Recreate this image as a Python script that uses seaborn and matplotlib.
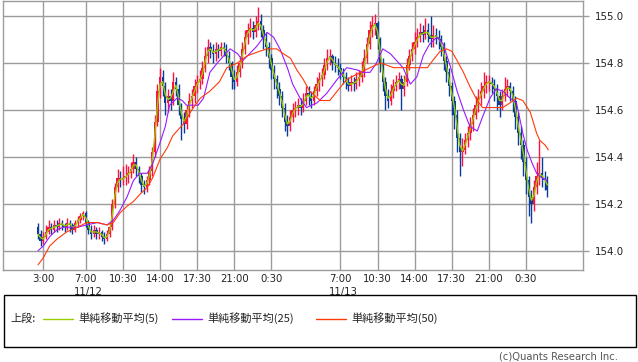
import numpy as np
import pandas as pd
import matplotlib
matplotlib.use("Agg")
import matplotlib.pyplot as plt
import seaborn as sns
from matplotlib.lines import Line2D
from matplotlib.patches import Rectangle

# ---------------- data (hours counted from 11/12 0:00, 15-min bars) ----------------
start_hour = 2.5
bar_hours = 0.25
first_open = 154.10

closes = [
    154.07, 154.04,
    154.06, 154.08, 154.10, 154.09,
    154.11, 154.10, 154.12, 154.11,
    154.10, 154.12, 154.11, 154.09,
    154.12, 154.13, 154.15, 154.16,
    154.12, 154.09, 154.07, 154.09,
    154.07, 154.08, 154.06, 154.05,
    154.07, 154.10, 154.20, 154.27,
    154.31, 154.30, 154.31, 154.32,
    154.33, 154.35, 154.38, 154.35,
    154.32, 154.28, 154.27, 154.30,
    154.34, 154.42, 154.55, 154.68,
    154.74, 154.70, 154.63, 154.66,
    154.64, 154.72, 154.69, 154.62,
    154.56, 154.54, 154.60, 154.64,
    154.66, 154.70, 154.72, 154.73,
    154.78, 154.83, 154.87, 154.85,
    154.84, 154.86, 154.85, 154.87,
    154.86, 154.83, 154.80, 154.74,
    154.72, 154.76, 154.80, 154.86,
    154.91, 154.94, 154.95, 154.93,
    154.96, 154.98, 154.94, 154.90,
    154.87, 154.82, 154.77, 154.73,
    154.69, 154.66, 154.61, 154.55,
    154.53, 154.57, 154.60, 154.61,
    154.62, 154.61, 154.64, 154.67,
    154.66, 154.64, 154.68, 154.71,
    154.73, 154.75, 154.79, 154.82,
    154.83, 154.80, 154.79, 154.78,
    154.76, 154.74, 154.72, 154.70,
    154.72, 154.71, 154.73, 154.74,
    154.76, 154.82, 154.88, 154.94,
    154.96, 154.97, 154.90, 154.80,
    154.72, 154.66, 154.64, 154.68,
    154.70, 154.72, 154.73, 154.69,
    154.72, 154.79, 154.83, 154.86,
    154.89, 154.91, 154.93, 154.92,
    154.94, 154.92, 154.90, 154.92,
    154.91, 154.90, 154.87, 154.81,
    154.76, 154.70, 154.64, 154.58,
    154.48, 154.42, 154.43, 154.47,
    154.50, 154.54, 154.58, 154.62,
    154.65, 154.68, 154.70, 154.72,
    154.72, 154.71, 154.69, 154.66,
    154.62, 154.66, 154.69, 154.70,
    154.68, 154.64, 154.57, 154.50,
    154.45, 154.38, 154.30, 154.23,
    154.20, 154.27, 154.32, 154.33,
    154.31, 154.30, 154.26,
]

highs = [
    154.12, 154.09,
    154.08, 154.11, 154.13, 154.12,
    154.13, 154.13, 154.14, 154.13,
    154.12, 154.14, 154.13, 154.12,
    154.13, 154.15, 154.16, 154.17,
    154.17, 154.13, 154.11, 154.11,
    154.10, 154.10, 154.09, 154.08,
    154.09, 154.12, 154.22, 154.29,
    154.35, 154.34, 154.36, 154.37,
    154.36, 154.38, 154.41, 154.40,
    154.36, 154.33, 154.30, 154.32,
    154.36, 154.44, 154.58, 154.71,
    154.78, 154.77, 154.72, 154.69,
    154.69, 154.76, 154.74, 154.71,
    154.63, 154.59, 154.62, 154.67,
    154.69, 154.73, 154.75, 154.77,
    154.81, 154.87, 154.90, 154.89,
    154.88, 154.89, 154.88, 154.89,
    154.89, 154.88, 154.85, 154.81,
    154.77, 154.79, 154.83, 154.89,
    154.94, 154.97, 154.99, 154.98,
    155.00, 155.04, 155.01, 154.96,
    154.93, 154.89, 154.84, 154.79,
    154.75, 154.72, 154.68, 154.63,
    154.58, 154.60, 154.63, 154.64,
    154.65, 154.65, 154.67, 154.70,
    154.70, 154.68, 154.70, 154.74,
    154.76, 154.78, 154.82, 154.86,
    154.86, 154.84, 154.83, 154.82,
    154.80, 154.78, 154.76, 154.74,
    154.75, 154.74, 154.76, 154.77,
    154.81, 154.86, 154.91, 154.98,
    155.00, 155.01, 154.98, 154.91,
    154.82, 154.74, 154.69, 154.71,
    154.73, 154.75, 154.76, 154.75,
    154.75, 154.82, 154.86, 154.89,
    154.93, 154.95, 154.97, 154.96,
    154.99, 154.97, 155.00, 154.96,
    154.95, 154.94, 154.92, 154.89,
    154.83, 154.78, 154.72, 154.66,
    154.60, 154.50, 154.48, 154.50,
    154.53, 154.57, 154.61, 154.66,
    154.69, 154.72, 154.76, 154.75,
    154.75, 154.74, 154.73, 154.71,
    154.68, 154.69, 154.74, 154.73,
    154.72, 154.70, 154.66, 154.59,
    154.53, 154.47, 154.40, 154.32,
    154.26, 154.30, 154.38, 154.47,
    154.40, 154.34, 154.32,
]

lows = [
    154.05, 154.02,
    154.03, 154.05, 154.07, 154.07,
    154.08, 154.08, 154.09, 154.09,
    154.08, 154.09, 154.08, 154.07,
    154.08, 154.10, 154.12, 154.13,
    154.10, 154.07, 154.05, 154.06,
    154.05, 154.05, 154.04, 154.03,
    154.04, 154.06, 154.09, 154.18,
    154.25, 154.27, 154.28, 154.28,
    154.29, 154.31, 154.33, 154.32,
    154.29, 154.25, 154.24, 154.25,
    154.28, 154.32, 154.40, 154.53,
    154.65, 154.66, 154.58, 154.59,
    154.60, 154.62, 154.66, 154.58,
    154.47, 154.50, 154.52, 154.57,
    154.61, 154.63, 154.67, 154.69,
    154.71, 154.76, 154.80, 154.82,
    154.80, 154.81, 154.82, 154.83,
    154.83, 154.80, 154.77, 154.69,
    154.69, 154.70, 154.74, 154.78,
    154.84, 154.88, 154.91, 154.90,
    154.91, 154.94, 154.91, 154.86,
    154.83, 154.78, 154.73, 154.69,
    154.65, 154.62, 154.57, 154.51,
    154.49, 154.51, 154.55, 154.57,
    154.58, 154.58, 154.59, 154.62,
    154.62, 154.61, 154.62, 154.66,
    154.68, 154.70, 154.73, 154.77,
    154.79, 154.77, 154.76, 154.75,
    154.73, 154.71, 154.69, 154.68,
    154.68, 154.68, 154.69, 154.70,
    154.72, 154.74, 154.80, 154.86,
    154.91, 154.92, 154.86, 154.76,
    154.68, 154.60, 154.61, 154.62,
    154.65, 154.68, 154.69, 154.60,
    154.66, 154.70, 154.77, 154.81,
    154.84, 154.87, 154.89, 154.89,
    154.90, 154.89, 154.87, 154.87,
    154.88, 154.86, 154.83, 154.77,
    154.72, 154.66, 154.58, 154.52,
    154.42, 154.32, 154.36, 154.41,
    154.44, 154.47, 154.51, 154.56,
    154.59, 154.62, 154.65, 154.67,
    154.68, 154.67, 154.64, 154.60,
    154.57, 154.60, 154.64, 154.66,
    154.64, 154.59, 154.52, 154.45,
    154.39, 154.32, 154.24, 154.15,
    154.12, 154.17, 154.24, 154.28,
    154.27, 154.26, 154.23,
]

ma25_hours = [2.5, 3.0, 3.6, 4.3, 4.9, 6.2, 7.1, 8.1, 9.0, 9.6, 10.2, 10.9, 11.5, 12.1,
              12.8, 13.3, 14.0, 14.5, 14.9, 15.6, 16.1, 16.5, 17.1, 17.6, 18.1, 18.7,
              19.4, 20.6, 21.3, 21.8, 23.1, 24.1, 24.7, 25.3, 26.0, 26.5, 27.2, 27.8,
              28.8, 29.7, 30.7, 31.6, 32.6, 33.1, 33.8, 34.4, 35.0, 35.7, 36.3, 36.9,
              37.6, 38.2, 38.8, 39.4, 40.1, 40.7, 41.4, 42.0, 42.6, 43.2, 43.9, 44.4,
              45.1, 45.7, 46.3, 47.0, 47.6, 48.2, 48.6, 49.1, 49.5, 50.0, 50.5]
ma25_values = [154.00, 154.02, 154.06, 154.09, 154.10, 154.10, 154.11, 154.12, 154.11,
               154.13, 154.17, 154.23, 154.30, 154.33, 154.33, 154.37, 154.46, 154.53,
               154.62, 154.65, 154.64, 154.62, 154.62, 154.62, 154.65, 154.76, 154.80,
               154.86, 154.84, 154.81, 154.87, 154.93, 154.91, 154.86, 154.78, 154.71,
               154.65, 154.61, 154.63, 154.67, 154.73, 154.78, 154.77, 154.76, 154.76,
               154.80, 154.86, 154.84, 154.81, 154.78, 154.71, 154.74, 154.83, 154.88,
               154.91, 154.88, 154.78, 154.68, 154.60, 154.53, 154.51, 154.57, 154.65,
               154.69, 154.68, 154.65, 154.63, 154.50, 154.43, 154.37, 154.33, 154.31,
               154.30]

ma50_hours = [2.5, 3.0, 3.6, 4.3, 5.2, 6.2, 7.1, 8.1, 9.0, 9.6, 10.2, 10.9, 11.5, 12.1,
              12.8, 13.3, 14.0, 14.7, 15.2, 16.2, 17.0, 17.8, 18.7, 19.6, 20.3, 21.3,
              22.2, 23.4, 24.1, 25.0, 25.6, 26.3, 26.9, 27.5, 28.1, 29.1, 30.0, 30.7,
              31.6, 32.9, 33.8, 34.8, 36.0, 37.3, 38.3, 39.2, 39.7, 40.4, 41.0, 41.5,
              42.0, 42.6, 43.2, 43.9, 44.4, 45.4, 46.3, 47.0, 47.6, 48.2, 48.9, 49.5,
              49.8, 50.3, 50.6]
ma50_values = [153.94, 153.97, 154.02, 154.05, 154.08, 154.10, 154.12, 154.12, 154.11,
               154.12, 154.16, 154.19, 154.21, 154.24, 154.27, 154.31, 154.39, 154.44,
               154.49, 154.54, 154.60, 154.65, 154.68, 154.72, 154.78, 154.80, 154.83,
               154.85, 154.86, 154.86, 154.84, 154.82, 154.77, 154.73, 154.68, 154.64,
               154.64, 154.68, 154.73, 154.76, 154.78, 154.80, 154.78, 154.78, 154.78,
               154.78, 154.81, 154.85, 154.86, 154.85, 154.81, 154.76, 154.70, 154.64,
               154.61, 154.61, 154.61, 154.63, 154.65, 154.64, 154.59, 154.50, 154.47,
               154.45, 154.43]

tick_hours = [3, 7, 10.5, 14, 17.5, 21, 24.5, 31, 34.5, 38, 41.5, 45, 48.5]
tick_labels = ["3:00", "7:00", "10:30", "14:00", "17:30", "21:00", "0:30",
               "7:00", "10:30", "14:00", "17:30", "21:00", "0:30"]
date_hours = [7, 31]
date_labels = ["11/12", "11/13"]
y_ticks = [154.0, 154.2, 154.4, 154.6, 154.8, 155.0]
legend_title = "上段:"
legend_labels = ["単純移動平均(5)", "単純移動平均(25)", "単純移動平均(50)"]
copyright_text = "(c)Quants Research Inc."

# ---------------- styling ----------------
sns.set_style("white")
plt.rcParams["font.family"] = ["DejaVu Sans", "Noto Sans CJK JP"]

UP = "#ff1040"
DOWN = "#0a3c9c"
C5 = "#99cc00"
C25 = "#9a19ff"
C50 = "#ff3a0a"
GRID = "#9c9c9c"

W, H = 638, 362
fig = plt.figure(figsize=(W / 100, H / 100), dpi=100)
ax = fig.add_axes([3 / W, 1 - 269.5 / H, (582.7 - 3) / W, (269.5 - 1) / H])

n = len(closes)
hours = start_hour + np.arange(n) * bar_hours
df = pd.DataFrame({"hour": hours, "close": closes, "high": highs, "low": lows})
df["open"] = df["close"].shift(1).fillna(first_open)
df["ma5"] = df["close"].rolling(2, min_periods=1).mean()
up = df["close"] >= df["open"]

for mask, col in ((up, UP), (~up, DOWN)):
    d = df[mask]
    ax.vlines(d["hour"], d["low"], d["high"], color=col, linewidth=1.0, zorder=2)
    body_lo = np.minimum(d["open"], d["close"])
    body_h = np.maximum((d["close"] - d["open"]).abs(), 0.004)
    ax.bar(d["hour"], body_h, bottom=body_lo, width=0.22, color=col,
           linewidth=0, zorder=2)

sns.lineplot(x=df["hour"], y=df["ma5"], ax=ax, color=C5, linewidth=1.0,
             estimator=None, zorder=4)
sns.lineplot(x=ma25_hours, y=ma25_values, ax=ax, color=C25, linewidth=0.8,
             estimator=None, zorder=5)
sns.lineplot(x=ma50_hours, y=ma50_values, ax=ax, color=C50, linewidth=0.8,
             estimator=None, zorder=6)

ax.set_xlim(-0.8, 53.84)
ax.set_ylim(153.920, 155.064)
ax.set_xlabel("")
ax.set_ylabel("")

ax.set_xticks(tick_hours)
ax.set_xticklabels(tick_labels)
ax.set_yticks(y_ticks)
ax.set_yticklabels([f"{v:.1f}" for v in y_ticks])
ax.yaxis.tick_right()
ax.tick_params(axis="x", length=0, pad=3, labelsize=7.3, colors="#222222")
ax.tick_params(axis="y", length=4, width=1, color=GRID, pad=5, labelsize=7.4,
               labelcolor="#222222", right=True, left=False)
ax.grid(True, color=GRID, linewidth=1.0)
ax.set_axisbelow(True)
for sp in ax.spines.values():
    sp.set_visible(True)
    sp.set_color(GRID)
    sp.set_linewidth(1.0)

for h, lab in zip(date_hours, date_labels):
    ax.annotate(lab, xy=(h, 0), xycoords=("data", "axes fraction"),
                xytext=(-8.4, -12.6), textcoords="offset points",
                ha="left", va="top", fontsize=7.3, color="#222222")

# ---------------- legend box ----------------
def fx(px):
    return px / W

def fy(py):
    return 1 - py / H

fig.add_artist(Rectangle((fx(3.5), fy(346.5)), fx(635.5) - fx(3.5), fy(295) - fy(346.5),
                         transform=fig.transFigure, fill=False, edgecolor="black",
                         linewidth=1.0))
ly = fy(318.5)
fig.text(fx(10), ly, legend_title, ha="left", va="center", fontsize=8,
         family=["Noto Sans CJK JP", "DejaVu Sans"], color="#222222")
entries = [(43, 73, 78, C5), (172, 202, 207, C25), (316, 346, 351, C50)]
for (x0, x1, xt, col), lab in zip(entries, legend_labels):
    fig.add_artist(Line2D([fx(x0), fx(x1)], [ly, ly], transform=fig.transFigure,
                          color=col, linewidth=1.0))
    fig.text(fx(xt), ly, lab, ha="left", va="center", fontsize=8,
             family=["Noto Sans CJK JP", "DejaVu Sans"], color="#222222")

fig.text(fx(618), fy(356.5), copyright_text, ha="right", va="center", fontsize=7.2,
         color="#555555")

fig.savefig("out.png", dpi=100)
